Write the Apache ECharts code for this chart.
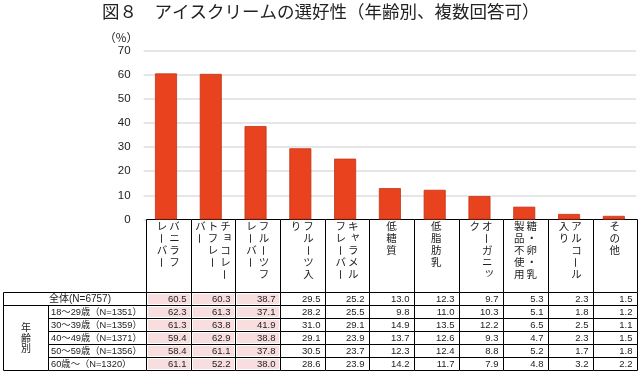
<!DOCTYPE html>
<html><head><meta charset="utf-8">
<script src="https://cdn.jsdelivr.net/npm/echarts@6/dist/echarts.min.js"></script>
<style>html,body{margin:0;padding:0;background:#fff}#c{width:640px;height:375px}</style>
</head><body><div id="c"></div>
<script>
const titleText = '図８　アイスクリームの選好性（年齢別、複数回答可）';
const yAxisName = '（%）';
const categories = ['バニラフレーバー','チョコレートフレーバー','フルーツフレーバー','フルーツ入り','キャラメルフレーバー','低糖質','低脂肪乳','オーガニック','糖・卵・乳製品不使用','アルコール入り','その他'];
// vertical (tategaki) columns of each category label, right to left
const categoryColumns = [
  ['バニラフ','レーバー'],
  ['チョコレー','トフレー','バー'],
  ['フルーツフ','レーバー'],
  ['フルーツ入','り'],
  ['キャラメル','フレーバー'],
  ['低糖質'],
  ['低脂肪乳'],
  ['オーガニッ','ク'],
  ['糖・卵・乳','製品不使用'],
  ['アルコール','入り'],
  ['その他']
];
const rowLabels = ['全体(N=6757)','18～29歳（N=1351）','30～39歳（N=1359）','40～49歳（N=1371）','50～59歳（N=1356）','60歳～（N=1320）'];
const groupLabel = '年齢別';
const total = [60.5,60.3,38.7,29.5,25.2,13.0,12.3,9.7,5.3,2.3,1.5];
const age18 = [62.3,61.3,37.1,28.2,25.5,9.8,11.0,10.3,5.1,1.8,1.2];
const age30 = [61.3,63.8,41.9,31.0,29.1,14.9,13.5,12.2,6.5,2.5,1.1];
const age40 = [59.4,62.9,38.8,29.1,23.9,13.7,12.6,9.3,4.7,2.3,1.5];
const age50 = [58.4,61.1,37.8,30.5,23.7,12.3,12.4,8.8,5.2,1.7,1.8];
const age60 = [61.1,52.2,38.0,28.6,23.9,14.2,11.7,7.9,4.8,3.2,2.2];
const tableRows = [total, age18, age30, age40, age50, age60];
const highlightCols = 3;

const JP = '"Noto Sans CJK JP", sans-serif';
const MIX = '"Liberation Sans", "Noto Sans CJK JP", sans-serif';
const NUM = '"Liberation Sans", Arial, sans-serif';
const HEADER_H = 73;
const smallKana = 'ャュョッァィゥェォ';

const cellData = [];
tableRows.forEach((arr, r) => arr.forEach((v, c) => cellData.push([c, r, v])));
const headerData = categories.map((_, c) => [c, 0]);
const labelData = rowLabels.map((_, r) => [0, r]);

function edges(api, c, r) {
  const p = api.coord([c, r]);
  const s = api.size([1, 1]);
  return {
    p,
    x0: Math.round(p[0] - s[0] / 2) + 0.5,
    x1: Math.round(p[0] + s[0] / 2) + 0.5,
    y0: Math.round(p[1] - s[1] / 2) + 0.5,
    y1: Math.round(p[1] + s[1] / 2) + 0.5
  };
}

function renderHeader(params, api) {
  const c = api.value(0);
  const e = edges(api, c, 0);
  const y1 = e.y0, y0 = y1 - HEADER_H;
  const children = [{type: 'rect', shape: {x: e.x0, y: y0, width: e.x1 - e.x0, height: HEADER_H},
    style: {fill: '#fff', stroke: '#000', lineWidth: 1}}];
  const cols = categoryColumns[c];
  const n = cols.length, gap = 12.5;
  cols.forEach((col, j) => {
    const cx = e.p[0] + ((n - 1) / 2 - j) * gap;
    Array.from(col).forEach((ch, i) => {
      let x = cx, y = y0 + 7 + i * 12, rot = 0;
      if (ch === 'ー') rot = Math.PI / 2;
      if (smallKana.indexOf(ch) >= 0) { x += 2; y -= 2; }
      children.push({type: 'text', x, y, rotation: rot,
        style: {text: ch, align: 'center', verticalAlign: 'middle', fontSize: 10.5, fontFamily: JP, fill: '#222'}});
    });
  });
  return {type: 'group', children};
}

function renderCell(params, api) {
  const c = api.value(0), r = api.value(1), v = api.value(2);
  const e = edges(api, c, r);
  const children = [{type: 'rect', shape: {x: e.x0, y: e.y0, width: e.x1 - e.x0, height: e.y1 - e.y0},
    style: {fill: '#fff', stroke: '#000', lineWidth: 1}}];
  if (c < highlightCols) {
    children.push({type: 'rect', shape: {x: e.x0 + 1.5, y: e.y0 + 1.5, width: e.x1 - e.x0 - 3, height: e.y1 - e.y0 - 3},
      style: {fill: '#f8dede'}});
  }
  children.push({type: 'text', x: e.x1 - 5, y: e.p[1] + 0.5,
    style: {text: v.toFixed(1), align: 'right', verticalAlign: 'middle', fontSize: 9.5, fontFamily: NUM, fill: '#222'}});
  return {type: 'group', children};
}

function renderLabel(params, api) {
  const r = api.value(1);
  const cs = params.coordSys;
  const e = edges(api, 0, r);
  const right = Math.round(cs.x) + 0.5;
  const left = 3.5;
  const split = Math.round(cs.x - 98) + 0.5;
  const children = [];
  if (r === 0) {
    children.push({type: 'rect', shape: {x: left, y: e.y0, width: right - left, height: e.y1 - e.y0},
      style: {fill: '#fff', stroke: '#000', lineWidth: 1}});
    children.push({type: 'text', x: (left + right) / 2 + 5, y: e.p[1] + 0.5,
      style: {text: rowLabels[r], align: 'center', verticalAlign: 'middle', fontSize: 10, fontFamily: MIX, fill: '#222'}});
  } else {
    children.push({type: 'rect', shape: {x: split, y: e.y0, width: right - split, height: e.y1 - e.y0},
      style: {fill: '#fff', stroke: '#000', lineWidth: 1}});
    children.push({type: 'text', x: split + 2.5, y: e.p[1] + 0.5,
      style: {text: rowLabels[r], align: 'left', verticalAlign: 'middle', fontSize: 9.3, fontFamily: MIX, fill: '#222'}});
    if (r === 1) {
      const last = edges(api, 0, rowLabels.length - 1);
      children.push({type: 'rect', shape: {x: left, y: e.y0, width: split - left, height: last.y1 - e.y0},
        style: {fill: 'none', stroke: '#000', lineWidth: 1}});
      const chars = Array.from(groupLabel);
      const mid = (e.y0 + last.y1) / 2, cx = (left + split) / 2;
      chars.forEach((ch, i) => {
        children.push({type: 'text', x: cx, y: mid + (i - (chars.length - 1) / 2) * 10.5,
          style: {text: ch, align: 'center', verticalAlign: 'middle', fontSize: 10, fontFamily: JP, fill: '#222'}});
      });
    }
  }
  return {type: 'group', children};
}

const chart = echarts.init(document.getElementById('c'), null, {renderer: 'canvas'});
chart.setOption({
  animation: false,
  backgroundColor: '#fff',
  title: {text: titleText, left: 97, top: -2,
    textStyle: {fontSize: 17.5, fontWeight: 'normal', color: '#222', fontFamily: JP}},
  grid: [
    {left: 143.6, right: 3.8, top: 50.5, height: 169},
    {left: 146, right: 2.8, top: 292, height: 78}
  ],
  xAxis: [
    {gridIndex: 0, type: 'category', data: categories, axisLine: {show: false}, axisTick: {show: false}, axisLabel: {show: false}},
    {gridIndex: 1, type: 'category', data: categories, show: false}
  ],
  yAxis: [
    {gridIndex: 0, type: 'value', min: 0, max: 70, interval: 10,
     name: yAxisName, nameLocation: 'end', nameGap: 7,
     nameTextStyle: {fontSize: 11.5, color: '#222', fontFamily: JP, padding: [0, 45, 0, 0]},
     axisLine: {show: false}, axisTick: {show: false},
     axisLabel: {fontSize: 11.5, color: '#222', fontFamily: NUM, margin: 13},
     splitLine: {lineStyle: {color: '#dedede', width: 1.5}}},
    {gridIndex: 1, type: 'category', data: rowLabels, inverse: true, show: false}
  ],
  series: [
    {type: 'bar', xAxisIndex: 0, yAxisIndex: 0, data: total, barWidth: 22,
     itemStyle: {color: '#e8421e', borderColor: '#c23519', borderWidth: 0.8}},
    {type: 'custom', xAxisIndex: 1, yAxisIndex: 1, data: headerData, encode: {x: 0, y: 1}, renderItem: renderHeader, clip: false},
    {type: 'custom', xAxisIndex: 1, yAxisIndex: 1, data: cellData, encode: {x: 0, y: 1}, renderItem: renderCell, clip: false},
    {type: 'custom', xAxisIndex: 1, yAxisIndex: 1, data: labelData, encode: {x: 0, y: 1}, renderItem: renderLabel, clip: false}
  ]
});
</script>
</body></html>
